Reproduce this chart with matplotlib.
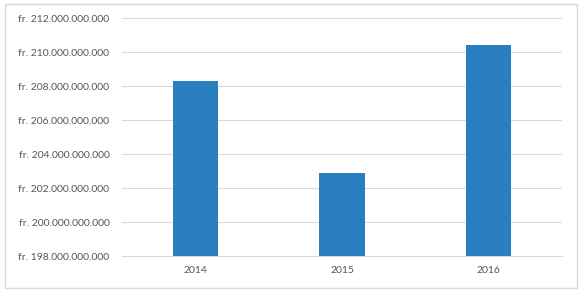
import matplotlib
matplotlib.use("Agg")
import matplotlib.pyplot as plt
from matplotlib.patches import Rectangle
from matplotlib.ticker import FuncFormatter

years = ["2014", "2015", "2016"]
values = [208.3e9, 202.9e9, 210.4e9]
y_ticks = [198e9, 200e9, 202e9, 204e9, 206e9, 208e9, 210e9, 212e9]

plt.rcParams["font.family"] = ["Lato", "DejaVu Sans"]

fig = plt.figure(figsize=(5.83, 2.94), dpi=100)
ax = fig.add_axes([122 / 583, 1 - 256 / 294, 440 / 583, 238 / 294])

ax.bar(range(len(years)), values, width=0.31, color="#2A7FC1", zorder=3)

ax.set_xlim(-0.5, 2.5)
ax.set_ylim(198e9, 212e9)
ax.set_yticks(y_ticks)
ax.yaxis.set_major_formatter(FuncFormatter(lambda v, p: "fr. " + f"{v:,.0f}".replace(",", ".")))
ax.set_xticks(range(len(years)))
ax.set_xticklabels(years)

ax.grid(axis="y", color="#D9D9D9", linewidth=0.8, zorder=0)
for s in ["top", "right", "left"]:
    ax.spines[s].set_visible(False)
ax.spines["bottom"].set_color("#D9D9D9")
ax.tick_params(axis="both", length=0, labelsize=7.5, colors="#555555")
ax.tick_params(axis="y", pad=9)
ax.tick_params(axis="x", pad=7)

fig.patches.append(Rectangle((5 / 583, 1 - 288 / 294), 572 / 583, 284 / 294,
                             transform=fig.transFigure, fill=False,
                             edgecolor="#D9D9D9", linewidth=1))

fig.savefig("out.png", dpi=100)
